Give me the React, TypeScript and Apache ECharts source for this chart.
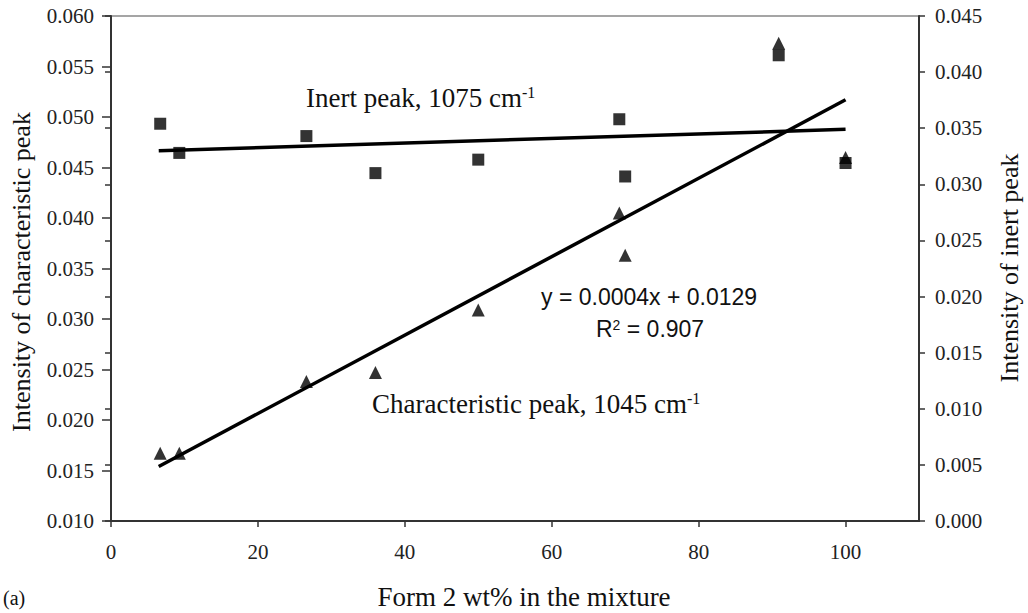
import React, { useEffect, useRef } from "react";
import * as echarts from "echarts";

// Form 2 wt% in the mixture
const formWt = [6.7, 9.3, 26.6, 36, 50, 69.2, 70, 90.9, 100];
// Intensity of characteristic peak (left axis), 1045 cm-1
const characteristicPeak = [0.0167, 0.0167, 0.0238, 0.0247, 0.0309, 0.0405, 0.0363, 0.0573, 0.046];
// Intensity of inert peak (right axis), 1075 cm-1
const inertPeak = [0.0354, 0.0328, 0.0343, 0.031, 0.0322, 0.0358, 0.0307, 0.0415, 0.0319];
// Trend line end points
const characteristicTrend = [
  [6.5, 0.0154],
  [100, 0.0517],
];
const inertTrend = [
  [6.5, 0.033],
  [100, 0.0349],
];

const serif = '"Liberation Serif", "Times New Roman", serif';
const sans = '"Liberation Sans", Arial, sans-serif';

export default function App() {
  const ref = useRef<HTMLDivElement>(null);
  useEffect(() => {
    const chart = echarts.init(ref.current!, null, { renderer: "svg" });
    const axisLabelStyle = { fontFamily: serif, fontSize: 21, color: "#222" };
    chart.setOption({
      animation: false,
      backgroundColor: "#fff",
      grid: {
        left: 111,
        right: 109,
        top: 16,
        bottom: 92,
        show: true,
        borderColor: "#888",
        borderWidth: 1.5,
      },
      xAxis: {
        type: "value",
        min: 0,
        max: 110,
        interval: 20,
        axisLine: { show: true, onZero: false, lineStyle: { color: "#333", width: 2 } },
        axisTick: { show: true, length: 6, lineStyle: { color: "#333", width: 1.5 } },
        axisLabel: {
          ...axisLabelStyle,
          margin: 20,
          showMaxLabel: false,
          formatter: (v: number) => (v > 100 ? "" : String(v)),
        },
        splitLine: { show: false },
      },
      yAxis: [
        {
          type: "value",
          position: "left",
          min: 0.01,
          max: 0.06,
          interval: 0.005,
          axisLine: { show: true, onZero: false, lineStyle: { color: "#333", width: 2 } },
          axisTick: { show: true, length: 9, lineStyle: { color: "#333", width: 1.5 } },
          axisLabel: { ...axisLabelStyle, margin: 17, formatter: (v: number) => v.toFixed(3) },
          splitLine: { show: false },
        },
        {
          type: "value",
          position: "right",
          min: 0,
          max: 0.045,
          interval: 0.005,
          axisLine: { show: true, onZero: false, lineStyle: { color: "#333", width: 2 } },
          axisTick: { show: true, length: 6, lineStyle: { color: "#333", width: 1.5 } },
          axisLabel: { ...axisLabelStyle, margin: 16, formatter: (v: number) => v.toFixed(3) },
          splitLine: { show: false },
        },
        {
          type: "value",
          position: "right",
          min: 0,
          max: 0.045,
          interval: 0.005,
          axisLine: { show: false },
          axisTick: { show: true, inside: true, length: 6, lineStyle: { color: "#333", width: 1.5 } },
          axisLabel: { show: false },
          splitLine: { show: false },
        },
      ],
      series: [
        {
          name: "Characteristic trend",
          type: "line",
          yAxisIndex: 0,
          data: characteristicTrend,
          symbol: "none",
          lineStyle: { color: "#000", width: 3.5 },
          z: 2,
        },
        {
          name: "Inert trend",
          type: "line",
          yAxisIndex: 1,
          data: inertTrend,
          symbol: "none",
          lineStyle: { color: "#000", width: 3.5 },
          z: 2,
        },
        {
          name: "Characteristic peak",
          type: "scatter",
          yAxisIndex: 0,
          symbol: "triangle",
          symbolSize: 13,
          itemStyle: { color: "#000" },
          data: formWt.map((x, i) => [x, characteristicPeak[i]]),
          z: 3,
        },
        {
          name: "Inert peak",
          type: "scatter",
          yAxisIndex: 1,
          symbol: "rect",
          symbolSize: 12,
          itemStyle: { color: "#000" },
          data: formWt.map((x, i) => [x, inertPeak[i]]),
          z: 3,
        },
      ],
      graphic: [
        {
          type: "text",
          x: 306,
          y: 98,
          style: {
            text: "{m|Inert peak, 1075 cm}{s|-1}",
            align: "left",
            verticalAlign: "middle",
            rich: {
              m: { fontFamily: serif, fontSize: 27, fill: "#111" },
              s: { fontFamily: serif, fontSize: 16, fill: "#111", verticalAlign: "top" },
            },
          },
        },
        {
          type: "text",
          x: 372,
          y: 404,
          style: {
            text: "{m|Characteristic peak, 1045 cm}{s|-1}",
            align: "left",
            verticalAlign: "middle",
            rich: {
              m: { fontFamily: serif, fontSize: 27, fill: "#111" },
              s: { fontFamily: serif, fontSize: 16, fill: "#111", verticalAlign: "top" },
            },
          },
        },
        {
          type: "text",
          x: 541,
          y: 297,
          style: {
            text: "y = 0.0004x + 0.0129",
            fontFamily: sans,
            fontSize: 23,
            fill: "#111",
            align: "left",
            verticalAlign: "middle",
          },
        },
        {
          type: "text",
          x: 596,
          y: 329,
          style: {
            text: "{m|R}{s|2}{m| = 0.907}",
            align: "left",
            verticalAlign: "middle",
            rich: {
              m: { fontFamily: sans, fontSize: 23, fill: "#111" },
              s: { fontFamily: sans, fontSize: 14, fill: "#111", verticalAlign: "top" },
            },
          },
        },
        {
          type: "text",
          x: 21,
          y: 272,
          rotation: Math.PI / 2,
          style: {
            text: "Intensity of characteristic peak",
            fontFamily: serif,
            fontSize: 26,
            fill: "#111",
            align: "center",
            verticalAlign: "middle",
          },
        },
        {
          type: "text",
          x: 1009,
          y: 268,
          rotation: Math.PI / 2,
          style: {
            text: "Intensity of inert peak",
            fontFamily: serif,
            fontSize: 26,
            fill: "#111",
            align: "center",
            verticalAlign: "middle",
          },
        },
        {
          type: "text",
          x: 524,
          y: 597,
          style: {
            text: "Form 2 wt% in the mixture",
            fontFamily: serif,
            fontSize: 27,
            fill: "#111",
            align: "center",
            verticalAlign: "middle",
          },
        },
        {
          type: "text",
          x: 3,
          y: 598,
          style: {
            text: "(a)",
            fontFamily: serif,
            fontSize: 20,
            fill: "#111",
            align: "left",
            verticalAlign: "middle",
          },
        },
      ],
    });
    return () => chart.dispose();
  }, []);
  return (
    <div
      ref={ref}
      style={{ position: "absolute", left: 0, top: 0, width: 1028, height: 613, background: "#fff" }}
    />
  );
}
